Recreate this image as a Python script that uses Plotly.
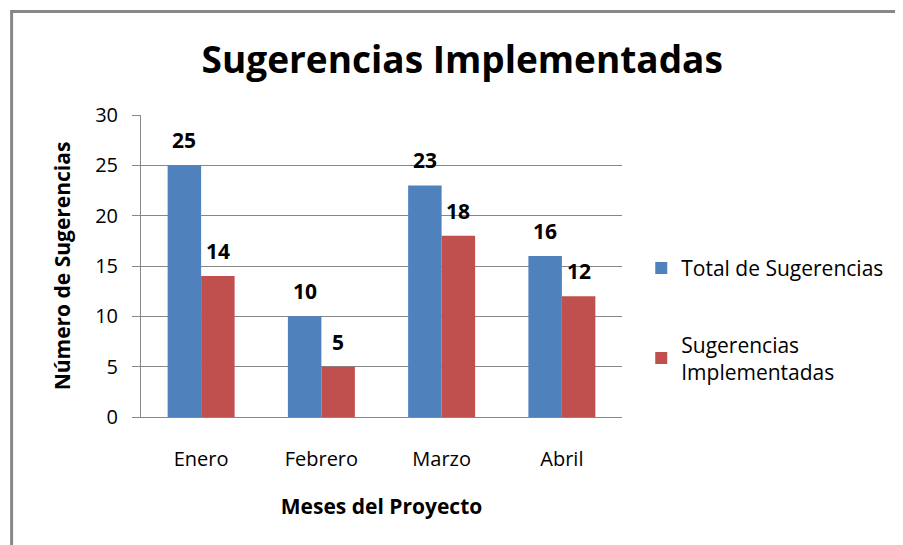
import plotly.graph_objects as go

meses = ['Enero', 'Febrero', 'Marzo', 'Abril']
total = [25, 10, 23, 16]
implementadas = [14, 5, 18, 12]

azul = '#4F81BD'
rojo = '#C0504D'
gris = '#878787'
fuente = 'Open Sans'

# the page body has an 8px margin, so the figure is shifted a little
l, r, t, b = 133, 289, 107, 136
ancho, alto = 903, 545
bargap = 0.443
# half of one bar, in px, to put the labels over each bar
media_barra = (ancho - l - r) / len(meses) * (1 - bargap) / 4

fig = go.Figure()
fig.add_trace(go.Bar(x=meses, y=total, name='Total de Sugerencias',
                     marker=dict(color=azul, line=dict(width=0)), legendgroup='a'))
fig.add_trace(go.Bar(x=meses, y=implementadas, name='Sugerencias<br>Implementadas',
                     marker=dict(color=rojo, line=dict(width=0)), legendgroup='b'))

for serie, signo in [(total, -1), (implementadas, 1)]:
    for mes, v in zip(meses, serie):
        fig.add_annotation(x=mes, y=v, text=str(v), showarrow=False,
                           xshift=signo * media_barra, yshift=25, yanchor='middle',
                           font=dict(size=21, family=fuente, color='black', weight='bold'))

fig.update_layout(
    width=ancho, height=alto,
    paper_bgcolor='white', plot_bgcolor='white',
    font=dict(family=fuente, size=20, color='black'),
    title=dict(text='Sugerencias Implementadas', x=0.503, xanchor='center', y=0.905, yanchor='middle',
               font=dict(size=37, family=fuente, weight='bold')),
    margin=dict(l=l, r=r, t=t, b=b),
    barmode='group', bargap=bargap, bargroupgap=0,
    showlegend=True,
    legend=dict(x=1.04, y=0.56, xanchor='left', yanchor='top', traceorder='grouped',
                tracegroupgap=46, font=dict(size=21), itemwidth=30),
    xaxis=dict(showline=True, linecolor=gris, linewidth=1, ticks='', ticklabelstandoff=24,
               title=dict(text='Meses del Proyecto', standoff=28,
                          font=dict(size=21, weight='bold'))),
    yaxis=dict(range=[0, 30], dtick=5, showgrid=True, gridcolor=gris, gridwidth=1,
               showline=True, linecolor=gris, ticks='outside', ticklen=8,
               tickcolor=gris, zeroline=False, ticklabelstandoff=10,
               title=dict(text='Número de Sugerencias', standoff=18,
                          font=dict(size=21, weight='bold'))),
)

fig.add_shape(type='rect', xref='paper', yref='paper',
              x0=-0.269, x1=2, y0=-1, y1=1.343,
              line=dict(color=gris, width=3))

fig.write_html('out.html')
